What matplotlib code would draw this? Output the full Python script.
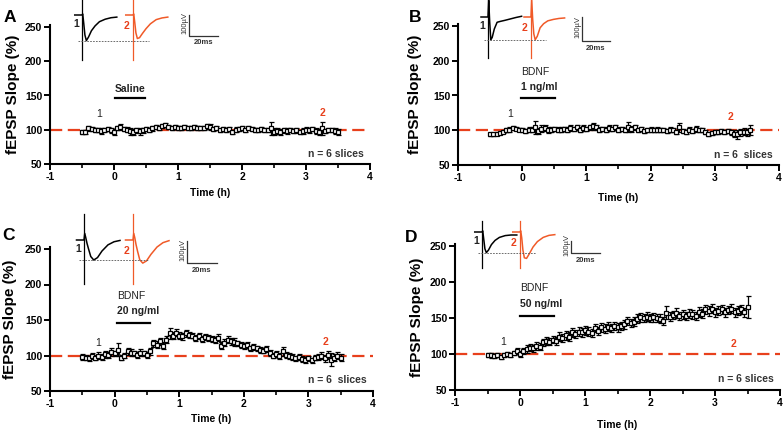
import numpy as np
import matplotlib
matplotlib.use("Agg")
import matplotlib.pyplot as plt
from matplotlib.ticker import MultipleLocator

plt.rcParams['font.family'] = ['Liberation Sans', 'DejaVu Sans']
plt.rcParams['axes.unicode_minus'] = False

RED = '#e8401c'
TRACE_RED = '#f05a28'

# tempo de registro: um ponto a cada 3 min
minutes = list(range(-30, 211, 3))      # A, C, D (-0.5 h .. 3.5 h)
minutes_b = list(range(-30, 214, 3))    # B vai ate 3.55 h

# A - Saline
slope_a = [97, 97, 102, 101, 100, 100, 98, 100, 101, 99,
           97, 102, 104, 101, 100, 98, 97, 99, 98, 99,
           101, 99, 102, 104, 103, 106, 107, 104, 102, 104,
           103, 102, 104, 103, 102, 104, 103, 102, 103, 105,
           104, 101, 102, 100, 101, 99, 101, 97, 100, 101,
           102, 100, 102, 101, 100, 99, 101, 100, 99, 102,
           97, 98, 97, 99, 98, 100, 98, 99, 97, 98,
           100, 99, 101, 98, 97, 102, 98, 100, 99, 98,
           97]
sem_a = [3, 3, 4, 3, 3, 3, 4, 3, 3, 4,
         4, 3, 4, 3, 4, 5, 4, 4, 5, 4,
         3, 3, 4, 3, 3, 3, 3, 3, 3, 3,
         3, 3, 3, 3, 3, 3, 3, 3, 3, 4,
         4, 3, 3, 3, 3, 3, 3, 3, 4, 3,
         3, 3, 3, 3, 3, 3, 3, 3, 3, 9,
         5, 4, 4, 4, 4, 3, 3, 4, 3, 4,
         4, 4, 3, 4, 4, 9, 3, 3, 3, 4,
         4]

# B - BDNF 1 ng/ml
slope_b = [94, 94, 95, 96, 98, 100, 101, 103, 102, 101,
           100, 99, 101, 101, 104, 99, 102, 103, 100, 101,
           102, 101, 101, 102, 101, 103, 102, 104, 101, 103,
           102, 104, 106, 104, 101, 102, 101, 103, 102, 104,
           101, 102, 100, 105, 102, 104, 100, 102, 99, 100,
           101, 100, 101, 100, 100, 99, 101, 100, 98, 104,
           99, 98, 101, 99, 102, 100, 100, 98, 95, 96,
           98, 98, 99, 98, 99, 97, 95, 94, 97, 98,
           97, 100]
sem_b = [2, 2, 2, 2, 2, 3, 3, 3, 2, 2,
         3, 3, 4, 4, 9, 4, 5, 4, 4, 3,
         3, 3, 3, 3, 3, 4, 3, 4, 3, 4,
         3, 4, 5, 4, 3, 3, 3, 4, 3, 4,
         3, 3, 3, 7, 4, 4, 3, 3, 3, 3,
         3, 3, 3, 3, 3, 3, 3, 3, 3, 6,
         3, 3, 4, 3, 4, 3, 3, 3, 3, 3,
         3, 3, 3, 3, 3, 4, 5, 7, 5, 5,
         5, 7]

# C - BDNF 20 ng/ml
slope_c = [98, 97, 96, 99, 97, 100, 98, 102, 101, 105,
           103, 108, 97, 100, 106, 104, 103, 101, 104, 103,
           101, 106, 117, 115, 120, 114, 122, 131, 128, 132,
           128, 127, 131, 129, 128, 125, 127, 123, 126, 125,
           123, 122, 125, 114, 118, 122, 120, 119, 117, 115,
           113, 115, 110, 112, 110, 108, 107, 109, 104, 100,
           102, 99, 106, 101, 99, 98, 96, 98, 95, 94,
           96, 93, 97, 98, 100, 96, 101, 94, 97, 100,
           97]
sem_c = [4, 4, 4, 4, 4, 5, 4, 5, 4, 5,
         4, 9, 4, 4, 5, 5, 4, 4, 5, 4,
         4, 5, 5, 5, 5, 5, 5, 8, 5, 5,
         5, 5, 5, 4, 4, 4, 4, 4, 4, 4,
         4, 4, 5, 5, 5, 5, 5, 5, 4, 4,
         4, 4, 4, 4, 4, 4, 4, 4, 4, 4,
         4, 4, 6, 4, 4, 4, 4, 4, 4, 4,
         4, 4, 4, 4, 5, 5, 6, 9, 5, 5,
         5]

# D - BDNF 50 ng/ml
slope_d = [99, 98, 97, 99, 96, 99, 100, 99, 101, 104,
           100, 104, 107, 109, 108, 111, 110, 116, 118, 117,
           120, 118, 124, 122, 126, 124, 130, 128, 131, 130,
           133, 131, 129, 136, 132, 137, 135, 138, 136, 139,
           137, 139, 141, 146, 143, 145, 149, 151, 150, 152,
           150, 151, 150, 149, 146, 157, 152, 154, 157, 153,
           155, 153, 156, 155, 153, 158, 156, 162, 160, 163,
           158, 160, 162, 158, 161, 163, 158, 160, 162, 158,
           165]
sem_d = [3, 3, 3, 3, 3, 3, 3, 3, 3, 4,
         4, 4, 5, 5, 5, 5, 5, 5, 5, 5,
         5, 5, 6, 6, 6, 6, 6, 6, 6, 6,
         6, 6, 6, 6, 6, 6, 6, 6, 6, 6,
         6, 6, 6, 6, 6, 6, 6, 6, 6, 6,
         6, 6, 6, 6, 6, 9, 6, 6, 7, 6,
         6, 6, 6, 6, 6, 7, 6, 6, 7, 6,
         6, 6, 6, 6, 6, 6, 6, 6, 6, 6,
         15]

# tracos de fEPSP (ms apos o estimulo, uV relativo a linha de base)
trace_t = [-5, 0, 0.5, 1.2, 2, 3, 4.5, 6.5, 9, 12, 16, 20, 24]
trace_a1 = [0, 0, 5, -40, -95, -122, -105, -75, -52, -32, -20, -13, -10]
trace_a2 = [0, 0, 5, -35, -85, -112, -108, -88, -65, -42, -22, -14, -10]
trace_b1 = [0, 0, 70, -20, -95, -85, -50, -22, -18, -14, -8, -2, 3]
trace_b2 = [0, 0, 70, -10, -70, -95, -80, -45, -28, -16, -10, -6, -4]
trace_c1 = [0, 0, 30, 10, -15, -40, -75, -91, -80, -50, -22, -8, -2]
trace_c2 = [0, 0, 30, 10, -20, -50, -90, -105, -95, -65, -32, -12, -3]
trace_d1 = [0, 0, 10, -60, -140, -172, -150, -105, -70, -45, -30, -25, -25]
trace_d2 = [0, 0, 10, -50, -150, -215, -220, -180, -125, -80, -45, -28, -22]
# artefato de estimulo (topo, fundo) em uV
artifact_a = (71, -214)
artifact_b = (71, -171)
artifact_c = (120, -200)
artifact_d = (92, -300)

fig = plt.figure(figsize=(7.84, 4.32), dpi=100)


def px_axes(left, right, y50, y250, top_val=253):
    ppu = (y50 - y250) / 200
    h = (top_val - 50) * ppu
    return fig.add_axes([left / 784, 1 - y50 / 432, (right - left) / 784, h / 432])


def draw_panel(ax, mins, slope, sem, drug, dose, bar, lab1, lab2,
               nlab, ylab_x, xlab_y):
    t = np.array(mins) / 60
    ax.axhline(100, color=RED, ls=(0, (5.5, 2.5)), lw=1.6, zorder=2)
    ax.plot(t, slope, color='black', lw=0.8, zorder=3)
    ax.errorbar(t, slope, yerr=sem, fmt='s', ms=2.2, mfc='white', mec='black',
                mew=0.9, ecolor='black', elinewidth=0.9, capsize=1.8,
                capthick=0.9, zorder=3)
    ax.set_xlim(-1, 4)
    ax.set_ylim(50, 253)
    ax.set_xticks([-1, 0, 1, 2, 3, 4])
    ax.set_yticks([50, 100, 150, 200, 250])
    ax.xaxis.set_minor_locator(MultipleLocator(0.5))
    for s in ['top', 'right']:
        ax.spines[s].set_visible(False)
    for s in ['left', 'bottom']:
        ax.spines[s].set_linewidth(1.5)
    ax.tick_params(which='major', direction='out', length=4, width=1.4,
                   labelsize=7.5, pad=1.5)
    ax.tick_params(which='minor', direction='out', length=3, width=1.2)
    for lbl in ax.get_xticklabels() + ax.get_yticklabels():
        lbl.set_fontweight('bold')
    ax.set_ylabel('fEPSP Slope (%)', fontsize=11, fontweight='bold')
    ax.yaxis.set_label_coords(ylab_x, 0.5)
    ax.set_xlabel('Time (h)', fontsize=7.5, fontweight='bold')
    ax.xaxis.set_label_coords(0.5, xlab_y)

    # barra de aplicacao da droga
    ax.plot(bar[:2], [bar[2], bar[2]], color='black', lw=1.6)
    if dose is None:
        ax.text((bar[0] + bar[1]) / 2, bar[2] + 14, drug, ha='center',
                va='center', fontsize=7.5, fontweight='bold', color='#222222')
    else:
        ax.text(bar[0], bar[2] + 38, drug, ha='left', va='center',
                fontsize=7.5, color='#222222')
        ax.text(bar[0], bar[2] + 16, dose, ha='left', va='center',
                fontsize=7.5, fontweight='semibold', color='#222222')
    ax.text(lab1[0], lab1[1], '1', ha='center', va='center', fontsize=7.5,
            color='#222222')
    ax.text(lab2[0], lab2[1], '2', ha='center', va='center', fontsize=7.5,
            fontweight='bold', color=RED)
    ax.text(3.9, 65, nlab, ha='right', va='center', fontsize=7.5,
            fontweight='semibold', color='#333333')


ax_a = px_axes(50, 370, 164, 27)
draw_panel(ax_a, minutes, slope_a, sem_a, 'Saline', None,
           (0.02, 0.48, 146), (-0.23, 123), (3.25, 125), 'n = 6 slices',
           -0.094, -0.17)
ax_b = px_axes(458, 779, 165, 26)
draw_panel(ax_b, minutes_b, slope_b, sem_b, 'BDNF', '1 ng/ml',
           (-0.02, 0.51, 146), (-0.19, 123), (3.24, 119), 'n = 6  slices',
           -0.112, -0.2)
ax_c = px_axes(50, 373, 391, 249)
draw_panel(ax_c, minutes, slope_c, sem_c, 'BDNF', '20 ng/ml',
           (0.04, 0.55, 146), (-0.26, 118), (3.26, 119), 'n = 6  slices',
           -0.102, -0.16)
ax_d = px_axes(455, 780, 390, 246)
draw_panel(ax_d, minutes, slope_d, sem_d, 'BDNF', '50 ng/ml',
           (0.0, 0.52, 153), (-0.26, 117), (3.29, 114), 'n = 6 slices',
           -0.095, -0.205)

# camada em pixels para letras e tracos
ov = fig.add_axes([0, 0, 1, 1], zorder=10)
ov.set_xlim(0, 784)
ov.set_ylim(432, 0)
ov.axis('off')
ov.patch.set_visible(False)

for letter, (lx, ly) in zip('ABCD', [(10, 17), (415, 17), (9, 236), (411, 238)]):
    ov.text(lx, ly, letter, fontsize=12.5, fontweight='bold', ha='center',
            va='center')


def draw_traces(v1, v2, art, stim1, stim2, base, pxms, pxuv, sb_x, sb_y):
    tt = np.array(trace_t)
    for stim, v, col in [(stim1, v1, 'black'), (stim2, v2, TRACE_RED)]:
        ov.plot([stim, stim], [base - art[0] * pxuv, base - art[1] * pxuv],
                color=col, lw=0.9)
        ov.plot(stim + tt * pxms, base - np.array(v) * pxuv, color=col, lw=1.1)
    ymin = base - min(v1) * pxuv
    ov.plot([stim1 - 3 * pxms, stim2 + 11 * pxms], [ymin, ymin],
            color='#555555', lw=0.6, ls=(0, (2, 1.5)))
    ov.text(stim1 - 6, base + 9, '1', fontsize=7.5, fontweight='bold',
            ha='center', va='center', color='#222222')
    ov.text(stim2 - 6, base + 11, '2', fontsize=7.5, fontweight='bold',
            ha='center', va='center', color=RED)
    # barra de escala 100 uV / 20 ms
    h = 100 * pxuv
    w = 20 * pxms
    ov.plot([sb_x, sb_x, sb_x + w], [sb_y - h, sb_y, sb_y], color='#333333',
            lw=0.9)
    ov.text(sb_x - 4, sb_y - h / 2 - 2, '100µV', rotation=90, fontsize=5.5,
            ha='center', va='center', color='#333333')
    ov.text(sb_x + w / 2, sb_y + 7, '20ms', fontsize=5.5, fontweight='bold',
            ha='center', va='center', color='#333333')


draw_traces(trace_a1, trace_a2, artifact_a, 82, 133, 15, 1.45, 0.21, 189, 36)
draw_traces(trace_b1, trace_b2, artifact_b, 488, 531, 17, 1.4, 0.24, 582, 41)
draw_traces(trace_c1, trace_c2, artifact_c, 84, 133, 240, 1.5, 0.22, 187, 263)
draw_traces(trace_d1, trace_d2, artifact_d, 482, 520, 232, 1.45, 0.12, 571, 253)

fig.savefig('out.png', dpi=100)
